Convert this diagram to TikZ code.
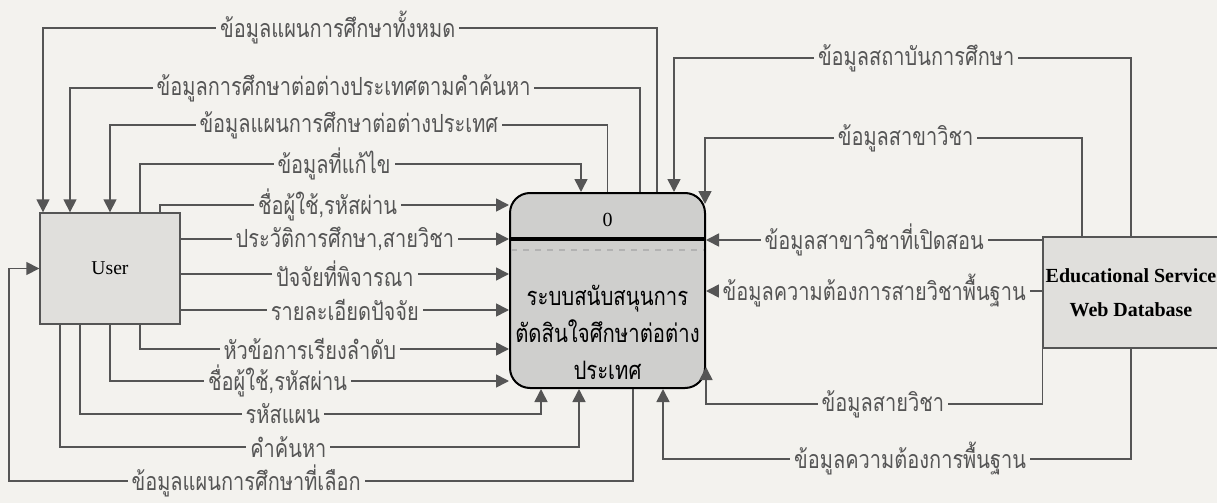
\documentclass[tikz,border=0pt]{standalone}
\usepackage{fontspec}
\setmainfont{Liberation Serif}
\newfontfamily\thaifont[Script=Thai, FakeStretch=0.8]{Loma}
\definecolor{paper}{RGB}{243,242,238}
\definecolor{boxgray}{RGB}{224,223,220}
\definecolor{procgray}{RGB}{207,207,205}
\definecolor{linegray}{RGB}{85,85,85}
\usetikzlibrary{arrows.meta}
\tikzset{
    userbox/.style={rectangle, draw=linegray, fill=boxgray, line width=0.7pt,
                    minimum width=70pt, minimum height=55.5pt, font=\fontsize{9.8}{12}\selectfont},
    procbox/.style={rectangle, rounded corners=10pt, draw=black, fill=procgray, line width=1pt,
                    minimum width=97.5pt, minimum height=97.5pt},
    dbbox/.style={rectangle, draw=linegray, fill=boxgray, line width=0.7pt, align=center, inner xsep=1pt,
                  minimum width=88pt, minimum height=55.5pt, font=\bfseries\fontsize{10}{14}\selectfont},
    arrow/.style={-{Triangle[length=6.5pt, width=6.5pt]}, line width=0.8pt, linegray},
    lbl/.style={fill=paper, inner xsep=2pt, inner ysep=0pt, font=\thaifont\fontsize{12.5}{14}\selectfont},
}
\begin{document}
\begin{tikzpicture}[x=0.5pt, y=-0.5pt]
    \useasboundingbox (0,0) rectangle (1217,503);
    \clip (0,0) rectangle (1217,503);
    \fill[paper] (0,0) rectangle (1217,503);
    % external entities and the process
    \node[userbox] (user) at (110,268.5) {User};
    \node[procbox] (proc) at (607.5,290.5) {};
    \node[font=\fontsize{10}{12}\selectfont] (procno) at (607.5,220) {0};
    \node[font=\thaifont\fontsize{12.7}{18.5}\selectfont, align=center] (procname) at (607.5,332)
        {ระบบสนับสนุนการ\\ตัดสินใจศึกษาต่อต่าง\\ประเทศ};
    \draw[line width=2pt] (proc.west |- 0,239) -- (proc.east |- 0,239);
    \draw[gray!60, dashed, line width=0.6pt] ([xshift=1pt]proc.west |- 0,250) -- ([xshift=-1pt]proc.east |- 0,250);
    \node[dbbox] (db) at (1131,292.5) {Educational Service\\[3pt]Web Database};
    % process -> user
    \draw[arrow] (proc.north -| 657,0) -- (657,28) -| node[lbl, pos=0.26] {ข้อมูลแผนการศึกษาทั้งหมด} (user.north -| 43,0);
    \draw[arrow] (proc.north -| 640,0) -- (640,88) -| node[lbl, pos=0.26] {ข้อมูลการศึกษาต่อต่างประเทศตามคำค้นหา} (user.north -| 70,0);
    \draw[arrow] (proc.north) -- (607.5,125) -| node[lbl, pos=0.26] {ข้อมูลแผนการศึกษาต่อต่างประเทศ} (user.north);
    \draw[arrow] (proc.south -| 633,0) -- (633,481) -- node[lbl, pos=0.62] {ข้อมูลแผนการศึกษาที่เลือก} (9,481) |- (user.west);
    % user -> process
    \draw[arrow] (user.north -| 140,0) -- (140,164) -| node[lbl, pos=0.22] {ข้อมูลที่แก้ไข} (proc.north -| 581,0);
    \draw[arrow] (user.north -| 160,0) |- node[lbl, pos=0.74] {ชื่อผู้ใช้,รหัสผ่าน} (proc.west |- 0,205);
    \draw[arrow] (user.east |- 0,239) -- node[lbl] {ประวัติการศึกษา,สายวิชา} (proc.west |- 0,239);
    \draw[arrow] (user.east |- 0,274) -- node[lbl] {ปัจจัยที่พิจารณา} (proc.west |- 0,274);
    \draw[arrow] (user.east |- 0,310) -- node[lbl] {รายละเอียดปัจจัย} (proc.west |- 0,310);
    \draw[arrow] (user.south -| 140,0) |- node[lbl, pos=0.73] {หัวข้อการเรียงลำดับ} (proc.west |- 0,349);
    \draw[arrow] (user.south) |- node[lbl, pos=0.71] {ชื่อผู้ใช้,รหัสผ่าน} (proc.west |- 0,381);
    \draw[arrow] (user.south -| 80,0) -- (80,414) -| node[lbl, pos=0.22] {รหัสแผน} (proc.south -| 541,0);
    \draw[arrow] (user.south -| 60,0) -- (60,447) -| node[lbl, pos=0.22] {คำค้นหา} (proc.south -| 579,0);
    % database -> process
    \draw[arrow] (db.north) -- (1131,58) -| node[lbl, pos=0.235] {ข้อมูลสถาบันการศึกษา} (proc.north -| 674,0);
    \draw[arrow] (db.north -| 1082,0) -- (1082,138) -| node[lbl, pos=0.234] {ข้อมูลสาขาวิชา} ([xshift=-0.5pt, yshift=-6pt]proc.north east);
    \draw[arrow] (db.west |- 0,240) -- node[lbl] {ข้อมูลสาขาวิชาที่เปิดสอน} (proc.east |- 0,240);
    \draw[arrow] (db.west |- 0,291) -- node[lbl] {ข้อมูลความต้องการสายวิชาพื้นฐาน} (proc.east |- 0,291);
    \draw[arrow] (db.south west) -- (db.south west |- 0,404) -| node[lbl, pos=0.237] {ข้อมูลสายวิชา} ([yshift=11pt]proc.south east);
    \draw[arrow] (db.south) -- (1131,459) -| node[lbl, pos=0.236] {ข้อมูลความต้องการพื้นฐาน} (proc.south -| 663,0);
\end{tikzpicture}
\end{document}
